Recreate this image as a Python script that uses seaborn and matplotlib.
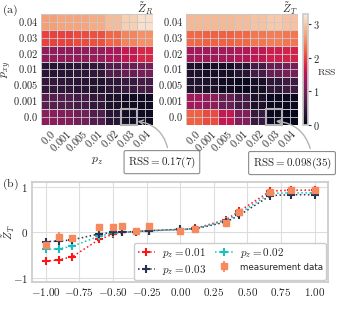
import numpy as np
import pandas as pd
import matplotlib
matplotlib.use('Agg')
import matplotlib.pyplot as plt
import seaborn as sns
from matplotlib.patches import Rectangle

sns.set_theme(style='whitegrid')
plt.rcParams['mathtext.fontset'] = 'cm'
plt.rcParams['font.family'] = ['DejaVu Serif']

# heatmap axes labels
pz_labels = ['0.0', '0.001', '0.005', '0.01', '0.02', '0.03', '0.04']
pxy_labels = ['0.04', '0.03', '0.02', '0.01', '0.005', '0.001', '0.0']  # top to bottom

# RSS for Z_R, rows = p_xy (0.04 at top), cols = p_z
rss_R = [
    [2.65, 2.70, 2.70, 2.75, 2.90, 3.05, 3.20],
    [2.00, 2.00, 2.05, 2.10, 2.25, 2.45, 2.55],
    [1.20, 1.20, 1.20, 1.25, 1.40, 1.60, 1.80],
    [0.35, 0.35, 0.40, 0.45, 0.70, 0.90, 1.00],
    [0.45, 0.40, 0.35, 0.30, 0.40, 0.50, 0.60],
    [0.75, 0.70, 0.60, 0.45, 0.25, 0.15, 0.15],
    [1.15, 1.10, 0.95, 0.70, 0.35, 0.17, 0.12],
]
# RSS for Z_T
rss_T = [
    [2.85, 2.85, 2.85, 2.90, 2.95, 3.00, 2.95],
    [2.25, 2.20, 2.20, 2.25, 2.35, 2.40, 2.35],
    [1.35, 1.30, 1.35, 1.45, 1.55, 1.70, 1.75],
    [0.25, 0.20, 0.20, 0.35, 0.60, 0.90, 1.00],
    [0.30, 0.25, 0.15, 0.10, 0.20, 0.40, 0.55],
    [1.35, 1.20, 0.90, 0.60, 0.25, 0.10, 0.10],
    [2.20, 2.05, 1.60, 1.10, 0.50, 0.098, 0.05],
]

# panel (b)
theta = [-1.0, -0.9, -0.8, -0.6, -0.5, -0.43, -0.33, -0.23, 0.0, 0.11, 0.34, 0.44, 0.67, 0.82, 1.0]
zt_001 = [-0.64, -0.61, -0.54, -0.16, -0.05, -0.01, 0.01, 0.03, 0.05, 0.08, 0.27, 0.46, 0.90, 0.92, 0.92]
zt_002 = [-0.38, -0.37, -0.31, -0.09, -0.02, -0.01, 0.01, 0.03, 0.05, 0.07, 0.25, 0.41, 0.85, 0.86, 0.86]
zt_003 = [-0.21, -0.20, -0.17, -0.04, -0.01, 0.00, 0.01, 0.03, 0.06, 0.07, 0.22, 0.37, 0.80, 0.82, 0.82]
meas = [-0.28, -0.10, -0.13, 0.10, 0.10, 0.13, 0.02, 0.13, 0.03, 0.07, 0.19, 0.45, 0.88, 0.92, 0.92]
meas_err = [0.05, 0.09, 0.07, 0.05, 0.05, 0.05, 0.04, 0.05, 0.04, 0.04, 0.05, 0.05, 0.05, 0.04, 0.04]

fig = plt.figure(figsize=(3.38, 3.10), dpi=100)
axL = fig.add_axes([0.121, 0.597, 0.331, 0.358])
axR = fig.add_axes([0.550, 0.597, 0.331, 0.358])
cax = fig.add_axes([0.896, 0.597, 0.016, 0.358])
axB = fig.add_axes([0.095, 0.090, 0.876, 0.323])

grid_c = '#c8c8c8'
for ax, data, title in [(axL, rss_R, r'$\tilde{Z}_R$'), (axR, rss_T, r'$\tilde{Z}_T$')]:
    df = pd.DataFrame(data, index=pxy_labels, columns=pz_labels)
    sns.heatmap(df, ax=ax, cmap='rocket', vmin=0, vmax=3.3, cbar=False,
                linewidths=0.6, linecolor=grid_c, xticklabels=True, yticklabels=True)
    ax.set_axisbelow(False)
    ax.grid(True, color=grid_c, lw=0.6)
    ax.set_xticks(np.arange(7) + 0.5)
    ax.set_yticks(np.arange(7) + 0.5)
    ax.set_xticklabels(['$%s$' % l for l in pz_labels], rotation=45, ha='right',
                       rotation_mode='anchor', fontsize=7.5)
    ax.set_yticklabels(['$%s$' % l for l in pxy_labels], rotation=0, fontsize=7.5)
    ax.tick_params(length=0, pad=2)
    ax.set_title(title, loc='right', pad=0.5, fontsize=8)
    ax.add_patch(Rectangle((5, 6), 1, 1, fill=False, ec='#b4b4b4', lw=1.5, clip_on=False, zorder=5))

axL.set_ylabel('$p_{xy}$', fontsize=8.5)
axL.yaxis.set_label_coords(-0.25, 0.5)
axL.set_xlabel('$p_z$', fontsize=8.5, labelpad=0)

cb = fig.colorbar(axR.collections[0], cax=cax)
cb.outline.set_edgecolor('#cccccc')
cb.set_ticks([0, 1, 2, 3])
cb.set_ticklabels(['$0$', '$1$', '$2$', '$3$'])
cax.tick_params(right=True, length=2.5, width=0.8, color='0.2', labelsize=7.5, pad=1)
fig.text(0.938, 0.768, r'$\mathrm{RSS}$', fontsize=7, ha='left', va='center')

arrow_kw = dict(arrowstyle='->', color='0.7', lw=1.0, connectionstyle='arc3,rad=0.4')
box_kw = dict(boxstyle='round,pad=0.35,rounding_size=0.15', fc='white', ec='0.55', lw=0.8)
axL.annotate(r'$\mathrm{RSS} = 0.17(7)$', xy=(5.87, 6.75), xycoords='data',
             xytext=(0.479, 0.477), textcoords='figure fraction', ha='center', va='center',
             fontsize=8, bbox=box_kw, arrowprops=dict(arrow_kw, relpos=(0.6, 1.0)),
             annotation_clip=False)
axR.annotate(r'$\mathrm{RSS} = 0.098(35)$', xy=(5.45, 6.75), xycoords='data',
             xytext=(0.864, 0.474), textcoords='figure fraction', ha='center', va='center',
             fontsize=8, bbox=box_kw, arrowprops=dict(arrow_kw, relpos=(0.75, 1.0)),
             annotation_clip=False)

# panel (b)
series = [(zt_001, '$p_z = 0.01$', '#ff1414'),
          (zt_002, '$p_z = 0.02$', '#19c0c0'),
          (zt_003, '$p_z = 0.03$', '#2b3150')]
for vals, lab, col in series:
    sns.lineplot(x=theta, y=vals, ax=axB, color=col, label=lab, linestyle=':', lw=1.1,
                 marker='+', markersize=5.5, markeredgewidth=1.5, markeredgecolor=col)
axB.errorbar(theta, meas, yerr=meas_err, fmt='s', color='#f7895e', ms=3.8, elinewidth=1.3,
             capsize=0, label='measurement data', zorder=5)

axB.set_xlim(-1.1, 1.1)
axB.set_ylim(-1.1, 1.1)
xt = np.arange(-1, 1.01, 0.25)
axB.set_xticks(xt)
axB.set_xticklabels(['$%.2f$' % v for v in xt], fontsize=8)
axB.set_yticks([-1, 0, 1])
axB.set_yticklabels(['$-1$', '$0$', '$1$'], fontsize=8)
axB.tick_params(length=0, pad=3)
axB.set_ylabel(r'$\tilde{Z}_T$', fontsize=8)
axB.yaxis.set_label_coords(-0.052, 0.5)
for s in axB.spines.values():
    s.set_edgecolor('#cccccc')
axB.grid(True, color='#dddddd', lw=0.8)

h, l = axB.get_legend_handles_labels()
order = [0, 2, 1, 3]
leg = axB.legend([h[i] for i in order], [l[i] for i in order], ncol=2, loc='lower right',
                 fontsize=8, handlelength=1.6, handletextpad=0.6, columnspacing=0.8,
                 borderaxespad=0.2, borderpad=0.3, labelspacing=0.2, fancybox=True,
                 framealpha=1, edgecolor='#cccccc')
leg.get_texts()[3].set_fontfamily('DejaVu Sans')
leg.get_texts()[3].set_fontsize(6.3)

fig.text(0.005, 0.99, r'$(\mathrm{a})$', fontsize=8.5, va='top', ha='left')
fig.text(0.005, 0.43, r'$(\mathrm{b})$', fontsize=8.5, va='top', ha='left')

fig.savefig('out.png', dpi=100)
